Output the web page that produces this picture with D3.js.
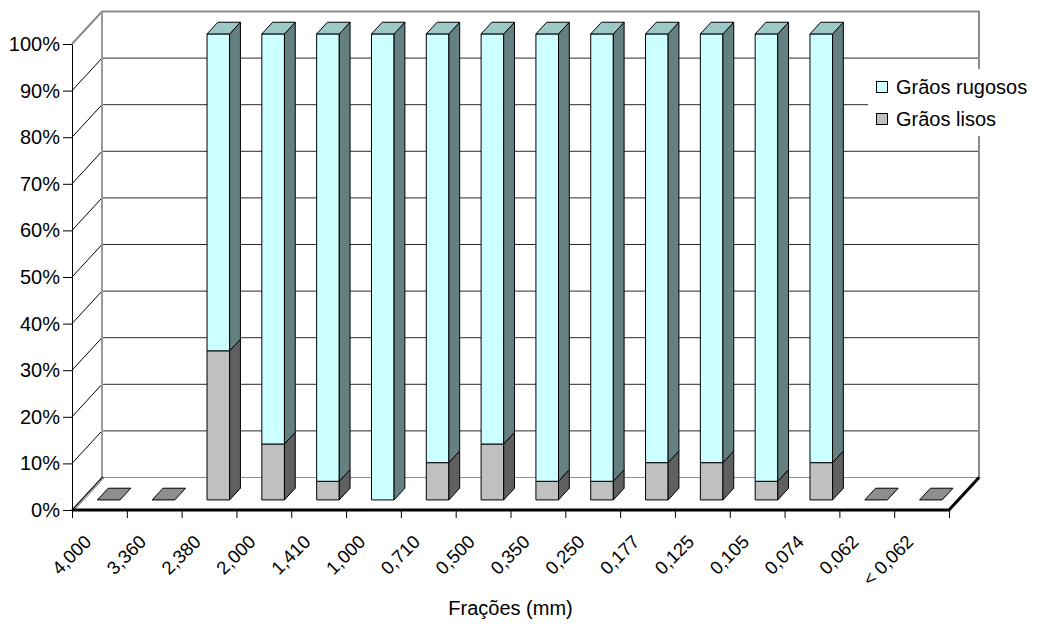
<!DOCTYPE html>
<html>
<head>
<meta charset="utf-8">
<script src="https://cdn.jsdelivr.net/npm/d3@7"></script>
<style>
  html, body { margin: 0; padding: 0; background: #fff; }
  svg { display: block; font-family: "Liberation Sans", Arial, sans-serif; }
</style>
</head>
<body>
<svg id="chart" width="1038" height="624"></svg>
<script>
// Grain fractions (mm) and the share of smooth / rough grains in each one
const categories = ["4,000", "3,360", "2,380", "2,000", "1,410", "1,000", "0,710", "0,500",
                    "0,350", "0,250", "0,177", "0,125", "0,105", "0,074", "0,062", "< 0,062"];
const lisos    = [0, 0, 32, 12,  4,   0,  8, 12,  4,  4,  8,  8,  4,  8, 0, 0];
const rugosos  = [0, 0, 68, 88, 96, 100, 92, 88, 96, 96, 92, 92, 96, 92, 0, 0];
const seriesNames = ["Grãos rugosos", "Grãos lisos"];
const yTicks = [0, 0.1, 0.2, 0.3, 0.4, 0.5, 0.6, 0.7, 0.8, 0.9, 1];
const xTitle = "Frações (mm)";

const svg = d3.select("#chart");

// front plane of the 3D box
const pLeft = 72, pRight = 949, pBottom = 510, pTop = 44;
// depth offset of the back wall
const DX = 30, DY = 32.5;
// bars sit between these depth fractions
const d0 = 0.31, d1 = 0.67;

const x = d3.scaleBand().domain(categories).range([pLeft, pRight]);
const xEdge = d3.scaleLinear().domain([0, categories.length]).range([pLeft, pRight]);
const y = d3.scaleLinear().domain([0, 1]).range([pBottom, pTop]);

const P = (px, py, d) => [px + d * DX, py - d * DY];
const poly = pts => pts.map(p => p.join(",")).join(" ");

const colors = {
  rugFront: "#ccffff", rugSide: "#648080", rugTop: "#9cc8c8",
  lisFront: "#c0c0c0", lisSide: "#606060", lisTop: "#8e8e8e"
};

// ---- walls ----
const walls = svg.append("g");
// back wall
walls.append("rect")
  .attr("x", pLeft + DX).attr("y", pTop - DY)
  .attr("width", pRight - pLeft).attr("height", pBottom - pTop)
  .attr("fill", "#fff");

// back-wall gridlines
walls.selectAll(".grid").data(yTicks.filter(t => t > 0 && t < 1)).join("line")
  .attr("x1", pLeft + DX).attr("x2", pRight + DX)
  .attr("y1", d => y(d) - DY).attr("y2", d => y(d) - DY)
  .attr("stroke", "#2a2a2a").attr("stroke-width", 1);

// side-wall gridlines (diagonals from the value axis to the back wall)
walls.selectAll(".side").data(yTicks.filter(t => t > 0 && t < 1)).join("line")
  .attr("x1", pLeft).attr("y1", d => y(d))
  .attr("x2", pLeft + DX).attr("y2", d => y(d) - DY)
  .attr("stroke", "#000").attr("stroke-width", 1);

// wall borders (grey)
walls.append("path")
  .attr("d", `M${pLeft},${y(1)} L${pLeft + DX},${y(1) - DY} L${pRight + DX},${y(1) - DY} L${pRight + DX},${y(0) - DY}`)
  .attr("fill", "none").attr("stroke", "#8a8a8a").attr("stroke-width", 2);
walls.append("line")
  .attr("x1", pLeft + DX).attr("x2", pLeft + DX)
  .attr("y1", y(1) - DY).attr("y2", y(0) - DY)
  .attr("stroke", "#9a9a9a").attr("stroke-width", 2);

// floor
const floorPts = [P(pLeft, pBottom, 0), P(pRight, pBottom, 0), P(pRight, pBottom, 1), P(pLeft, pBottom, 1)];
walls.append("polygon")
  .attr("points", poly(floorPts))
  .attr("fill", "#fff").attr("stroke", "#000").attr("stroke-width", 1.2);
walls.append("polyline")
  .attr("points", poly([P(pLeft + 3, pBottom - 1, 0), P(pLeft + 3, pBottom - 1, 0.97), P(pRight + 1, pBottom - 1, 0.97)]))
  .attr("fill", "none").attr("stroke", "#909090").attr("stroke-width", 1.2);
// thick front and right floor edges
walls.append("polyline")
  .attr("points", poly([P(pLeft, pBottom, 0), P(pRight, pBottom, 0), P(pRight, pBottom, 1)]))
  .attr("fill", "none").attr("stroke", "#000").attr("stroke-width", 3);

// ---- bars ----
const bars = svg.append("g").attr("stroke", "#000").attr("stroke-width", 1).attr("stroke-linejoin", "round");
const halfW = 11.3;

categories.forEach((c, i) => {
  const cx = x(c) + x.bandwidth() / 2;
  const x0 = cx - halfW, x1 = cx + halfW;
  const total = lisos[i] + rugosos[i];
  const g = bars.append("g");
  if (total === 0) {
    // empty fraction: only the flat top at zero height
    g.append("polygon")
      .attr("points", poly([P(x0, y(0), d0), P(x1, y(0), d0), P(x1, y(0), d1), P(x0, y(0), d1)]))
      .attr("fill", colors.lisTop);
    return;
  }
  const segs = [
    { v0: 0, v1: lisos[i] / total, front: colors.lisFront, side: colors.lisSide, top: colors.lisTop },
    { v0: lisos[i] / total, v1: 1, front: colors.rugFront, side: colors.rugSide, top: colors.rugTop }
  ].filter(s => s.v1 > s.v0);
  segs.forEach((s, j) => {
    const yb = y(s.v0), yt = y(s.v1);
    g.append("polygon")
      .attr("points", poly([P(x0, yb, d0), P(x1, yb, d0), P(x1, yt, d0), P(x0, yt, d0)]))
      .attr("fill", s.front);
    g.append("polygon")
      .attr("points", poly([P(x1, yb, d0), P(x1, yb, d1), P(x1, yt, d1), P(x1, yt, d0)]))
      .attr("fill", s.side);
    if (j === segs.length - 1) {
      g.append("polygon")
        .attr("points", poly([P(x0, yt, d0), P(x1, yt, d0), P(x1, yt, d1), P(x0, yt, d1)]))
        .attr("fill", s.top);
    }
  });
});

// ---- axes ----
const yAxis = svg.append("g")
  .attr("transform", `translate(${pLeft},0)`)
  .call(d3.axisLeft(y).tickValues(yTicks).tickFormat(d3.format(".0%")).tickSize(9).tickSizeOuter(0).tickPadding(3));
yAxis.select(".domain").attr("stroke", "#000");
yAxis.selectAll(".tick line").attr("stroke", "#000");
yAxis.selectAll(".tick text").attr("font-size", 20).attr("fill", "#000")
  .attr("font-family", "'Liberation Sans', Arial, sans-serif");

const xAxis = svg.append("g")
  .attr("transform", `translate(0,${pBottom})`)
  .call(d3.axisBottom(xEdge).tickValues(d3.range(categories.length + 1)).tickFormat("").tickSize(8).tickSizeOuter(0));
xAxis.select(".domain").remove();
xAxis.selectAll(".tick line").attr("stroke", "#000");

svg.append("g").selectAll("text").data(categories).join("text")
  .attr("transform", d => `translate(${x(d) + x.bandwidth() / 2 - 7},543) rotate(-45)`)
  .attr("text-anchor", "end")
  .attr("font-size", 18.5).attr("fill", "#000")
  .text(d => d);

svg.append("text")
  .attr("x", (pLeft + pRight) / 2).attr("y", 615)
  .attr("text-anchor", "middle").attr("font-size", 20).attr("fill", "#000")
  .text(xTitle);

// ---- legend ----
const legend = svg.append("g");
legend.append("rect").attr("x", 868).attr("y", 69).attr("width", 170).attr("height", 67).attr("fill", "#fff");
const legendFill = [colors.rugFront, colors.lisFront];
seriesNames.forEach((name, i) => {
  legend.append("rect")
    .attr("x", 876.5).attr("y", 81.5 + i * 32).attr("width", 11).attr("height", 11)
    .attr("fill", legendFill[i]).attr("stroke", "#000").attr("stroke-width", 1);
  legend.append("text")
    .attr("x", 896).attr("y", 94 + i * 32)
    .attr("font-size", 20).attr("fill", "#000")
    .text(name);
});
</script>
</body>
</html>
